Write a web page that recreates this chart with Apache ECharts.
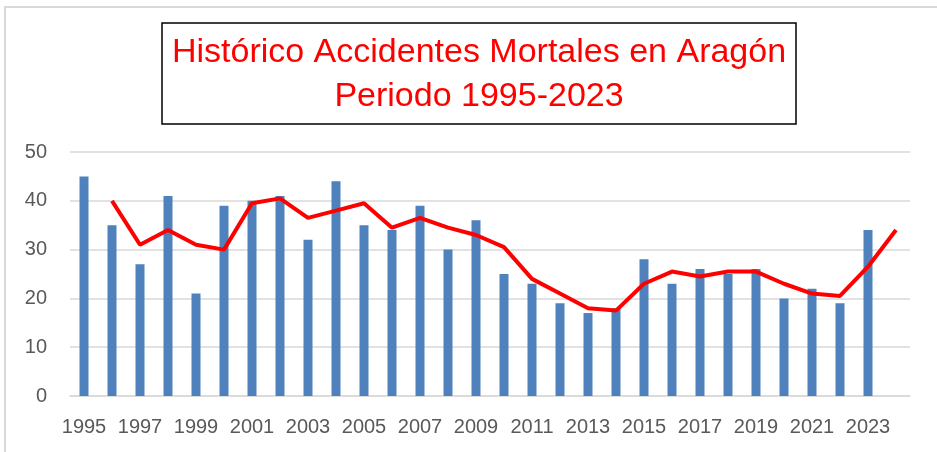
<!DOCTYPE html>
<html>
<head>
<meta charset="utf-8">
<script src="https://cdn.jsdelivr.net/npm/echarts@6/dist/echarts.min.js"></script>
<style>
  html, body { margin: 0; padding: 0; background: #fff; }
  #main { width: 937px; height: 452px; }
</style>
</head>
<body>
<div id="main"></div>
<script>
// years 1995..2024 (2024 has no bar, only the end of the moving average)
var years = ['1995', '1996', '1997', '1998', '1999', '2000', '2001', '2002', '2003', '2004',
  '2005', '2006', '2007', '2008', '2009', '2010', '2011', '2012', '2013', '2014',
  '2015', '2016', '2017', '2018', '2019', '2020', '2021', '2022', '2023', '2024'];

var deaths = [45, 35, 27, 41, 21, 39, 40, 41, 32, 44,
  35, 34, 39, 30, 36, 25, 23, 19, 17, 18,
  28, 23, 26, 25, 26, 20, 22, 19, 34, '-'];

// moving average line (2 periods)
var movingAvg = ['-', 40, 31, 34, 31, 30, 39.5, 40.5, 36.5, 38,
  39.5, 34.5, 36.5, 34.5, 33, 30.5, 24, 21, 18, 17.5,
  23, 25.5, 24.5, 25.5, 25.5, 23, 21, 20.5, 26.5, 34];

var titleLines = ['Histórico Accidentes Mortales en Aragón', 'Periodo 1995-2023'];

var chart = echarts.init(document.getElementById('main'));

var option = {
  animation: false,
  textStyle: { fontFamily: 'Liberation Sans' },
  graphic: [
    {
      type: 'rect',
      shape: { x: 5, y: 7, width: 940, height: 460 },
      style: { fill: 'none', stroke: '#d9d9d9', lineWidth: 2 },
      silent: true
    },
    {
      type: 'rect',
      shape: { x: 162, y: 23, width: 634, height: 101 },
      style: { fill: '#fff', stroke: '#000', lineWidth: 1.5 },
      silent: true
    },
    {
      type: 'text',
      x: 479,
      y: 53,
      style: {
        text: titleLines[0],
        fill: '#ff0000',
        font: '34px "Liberation Sans"',
        align: 'center',
        verticalAlign: 'middle'
      }
    },
    {
      type: 'text',
      x: 479,
      y: 97,
      style: {
        text: titleLines[1],
        fill: '#ff0000',
        font: '34px "Liberation Sans"',
        align: 'center',
        verticalAlign: 'middle'
      }
    }
  ],
  grid: {
    left: 70,
    right: 27,
    top: 152,
    bottom: 56
  },
  xAxis: {
    type: 'category',
    data: years,
    axisLine: { lineStyle: { color: '#d9d9d9', width: 1.5 } },
    axisTick: { show: false },
    axisLabel: {
      interval: 1,
      color: '#595959',
      fontSize: 20,
      margin: 21
    }
  },
  yAxis: {
    type: 'value',
    min: 0,
    max: 50,
    interval: 10,
    axisLine: { show: false },
    axisTick: { show: false },
    axisLabel: { color: '#595959', fontSize: 20, margin: 23 },
    splitLine: { lineStyle: { color: '#d9d9d9', width: 1.5 } }
  },
  series: [
    {
      name: 'Accidentes mortales',
      type: 'bar',
      data: deaths,
      barWidth: 9,
      itemStyle: { color: '#4f81bd' }
    },
    {
      name: 'Media móvil',
      type: 'line',
      data: movingAvg,
      symbol: 'none',
      lineStyle: { color: '#ff0000', width: 4 },
      z: 3
    }
  ]
};

chart.setOption(option);
</script>
</body>
</html>
